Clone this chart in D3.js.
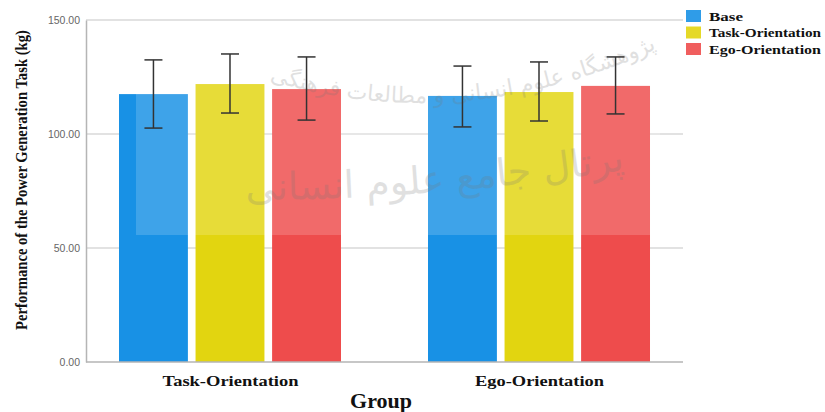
<!DOCTYPE html>
<html>
<head>
<meta charset="utf-8">
<script src="https://cdn.jsdelivr.net/npm/d3@7"></script>
<style>
  body { margin: 0; background: #fff; }
  svg { display: block; }
</style>
</head>
<body>
<div id="chart"></div>
<script>
// data
const groups = ["Task-Orientation", "Ego-Orientation"];
const series = ["Base", "Task-Orientation", "Ego-Orientation"];
const means = [
  [117.5, 121.9, 119.7],
  [116.7, 118.4, 121.1]
];
const errLow = [
  [102.6, 109.2, 106.1],
  [103.1, 105.7, 108.8]
];
const errHigh = [
  [132.5, 135.1, 133.8],
  [129.8, 131.6, 133.8]
];
const yTicks = [0, 50, 100, 150];
const colors = ["#1891e5", "#e2d510", "#ee4c4c"];

const W = 825, H = 412;
const plotL = 86, plotR = 683, plotT = 20, plotB = 362;

const svg = d3.select("#chart").append("svg")
  .attr("width", W).attr("height", H);

const y = d3.scaleLinear().domain([0, 150]).range([plotB, plotT]);
const x0 = d3.scalePoint().domain(groups).range([plotL, plotR]).padding(0.466);
const x1 = d3.scaleBand().domain(series).range([-111, 111]).paddingInner(0.1);

// grid lines
svg.append("g")
  .selectAll("line")
  .data(yTicks.filter(d => d > 0))
  .enter().append("line")
  .attr("x1", plotL).attr("x2", plotR)
  .attr("y1", d => y(d)).attr("y2", d => y(d))
  .attr("stroke", "#d9d9d9").attr("stroke-width", 1.3);

// y axis
const yAxis = svg.append("g")
  .attr("transform", `translate(${plotL},0)`)
  .call(d3.axisLeft(y).tickValues(yTicks).tickSize(0).tickPadding(6).tickFormat(d3.format(".2f")));
yAxis.select(".domain").attr("stroke", "#b5b5b5").attr("stroke-width", 1.5);
yAxis.selectAll("text")
  .attr("fill", "#666").style("font-family", "Arial, 'Liberation Sans', sans-serif").style("font-size", "10.5px");

// bars
const g = svg.append("g");
groups.forEach((grp, gi) => {
  series.forEach((s, si) => {
    const bx = x0(grp) + x1(s);
    g.append("rect")
      .attr("x", bx).attr("width", x1.bandwidth())
      .attr("y", y(means[gi][si]))
      .attr("height", y(0) - y(means[gi][si]))
      .attr("fill", colors[si]);
  });
});

// x axis
const xAxis = svg.append("g")
  .attr("transform", `translate(0,${plotB})`)
  .call(d3.axisBottom(x0).tickSize(0).tickPadding(13));
xAxis.select(".domain").attr("d", `M${plotL},0H${plotR}`).attr("stroke", "#b5b5b5").attr("stroke-width", 1.5);
xAxis.selectAll("text")
  .attr("fill", "#111")
  .style("font-family", "'Liberation Serif', 'Times New Roman', serif")
  .style("font-weight", "bold").style("font-size", "15px")
  .attr("textLength", d => d === "Task-Orientation" ? 136 : 129)
  .attr("lengthAdjust", "spacingAndGlyphs");

// watermark: light veil + faint persian text
svg.append("rect")
  .attr("x", 136).attr("y", 45).attr("width", 524).attr("height", 190)
  .attr("fill", "#fff").attr("opacity", 0.17);

const defs = svg.append("defs");
defs.append("path").attr("id", "wm1").attr("d", "M225,65 Q440,150 665,45");
defs.append("path").attr("id", "wm2").attr("d", "M245,200 Q430,200 625,170");
const wm = svg.append("g")
  .attr("fill", "#777").attr("opacity", 0.22)
  .style("font-family", "'DejaVu Sans', sans-serif");
wm.append("text").style("font-size", "22px").attr("direction", "rtl")
  .append("textPath").attr("href", "#wm1").attr("startOffset", "98%").attr("text-anchor", "start")
  .text("پژوهشگاه علوم انسانی و مطالعات فرهنگی");
wm.append("text").style("font-size", "38px").attr("direction", "rtl")
  .append("textPath").attr("href", "#wm2").attr("startOffset", "100%").attr("text-anchor", "start")
  .text("پرتال جامع علوم انسانی");

// error bars
const eg = svg.append("g").attr("stroke", "#333").attr("stroke-width", 1.5);
groups.forEach((grp, gi) => {
  series.forEach((s, si) => {
    const cx = x0(grp) + x1(s) + x1.bandwidth() / 2;
    const yl = y(errLow[gi][si]), yh = y(errHigh[gi][si]);
    eg.append("line").attr("x1", cx).attr("x2", cx).attr("y1", yl).attr("y2", yh);
    eg.append("line").attr("x1", cx - 9).attr("x2", cx + 9).attr("y1", yl).attr("y2", yl);
    eg.append("line").attr("x1", cx - 9).attr("x2", cx + 9).attr("y1", yh).attr("y2", yh);
  });
});

// axis titles (y title squeezed to ~300px with a scale instead of textLength)
const yTitle = svg.append("text")
  .attr("text-anchor", "middle")
  .attr("fill", "#111")
  .style("font-family", "'Liberation Serif', 'Times New Roman', serif")
  .style("font-weight", "bold").style("font-size", "17px")
  .text("Performance of the Power Generation Task (kg)");
const sx = 300 / yTitle.node().getComputedTextLength();
yTitle.attr("transform", `translate(27,180) rotate(-90) scale(${sx},1)`);

svg.append("text")
  .attr("x", 381).attr("y", 408)
  .attr("text-anchor", "middle")
  .attr("fill", "#111")
  .style("font-family", "'Liberation Serif', 'Times New Roman', serif")
  .style("font-weight", "bold").style("font-size", "22px")
  .text("Group");

// legend
const lg = svg.append("g").attr("transform", "translate(686,10)");
series.forEach((s, i) => {
  const row = lg.append("g").attr("transform", `translate(0,${i * 16.5})`);
  row.append("rect").attr("width", 15).attr("height", 12).attr("fill", colors[i]).attr("opacity", 0.9);
  row.append("text")
    .attr("x", 23).attr("y", 10.5)
    .attr("fill", "#111")
    .style("font-family", "'Liberation Serif', 'Times New Roman', serif")
    .style("font-weight", "bold").style("font-size", "13px")
    .attr("textLength", s === "Base" ? 34 : 112).attr("lengthAdjust", "spacingAndGlyphs")
    .text(s);
});
</script>
</body>
</html>
